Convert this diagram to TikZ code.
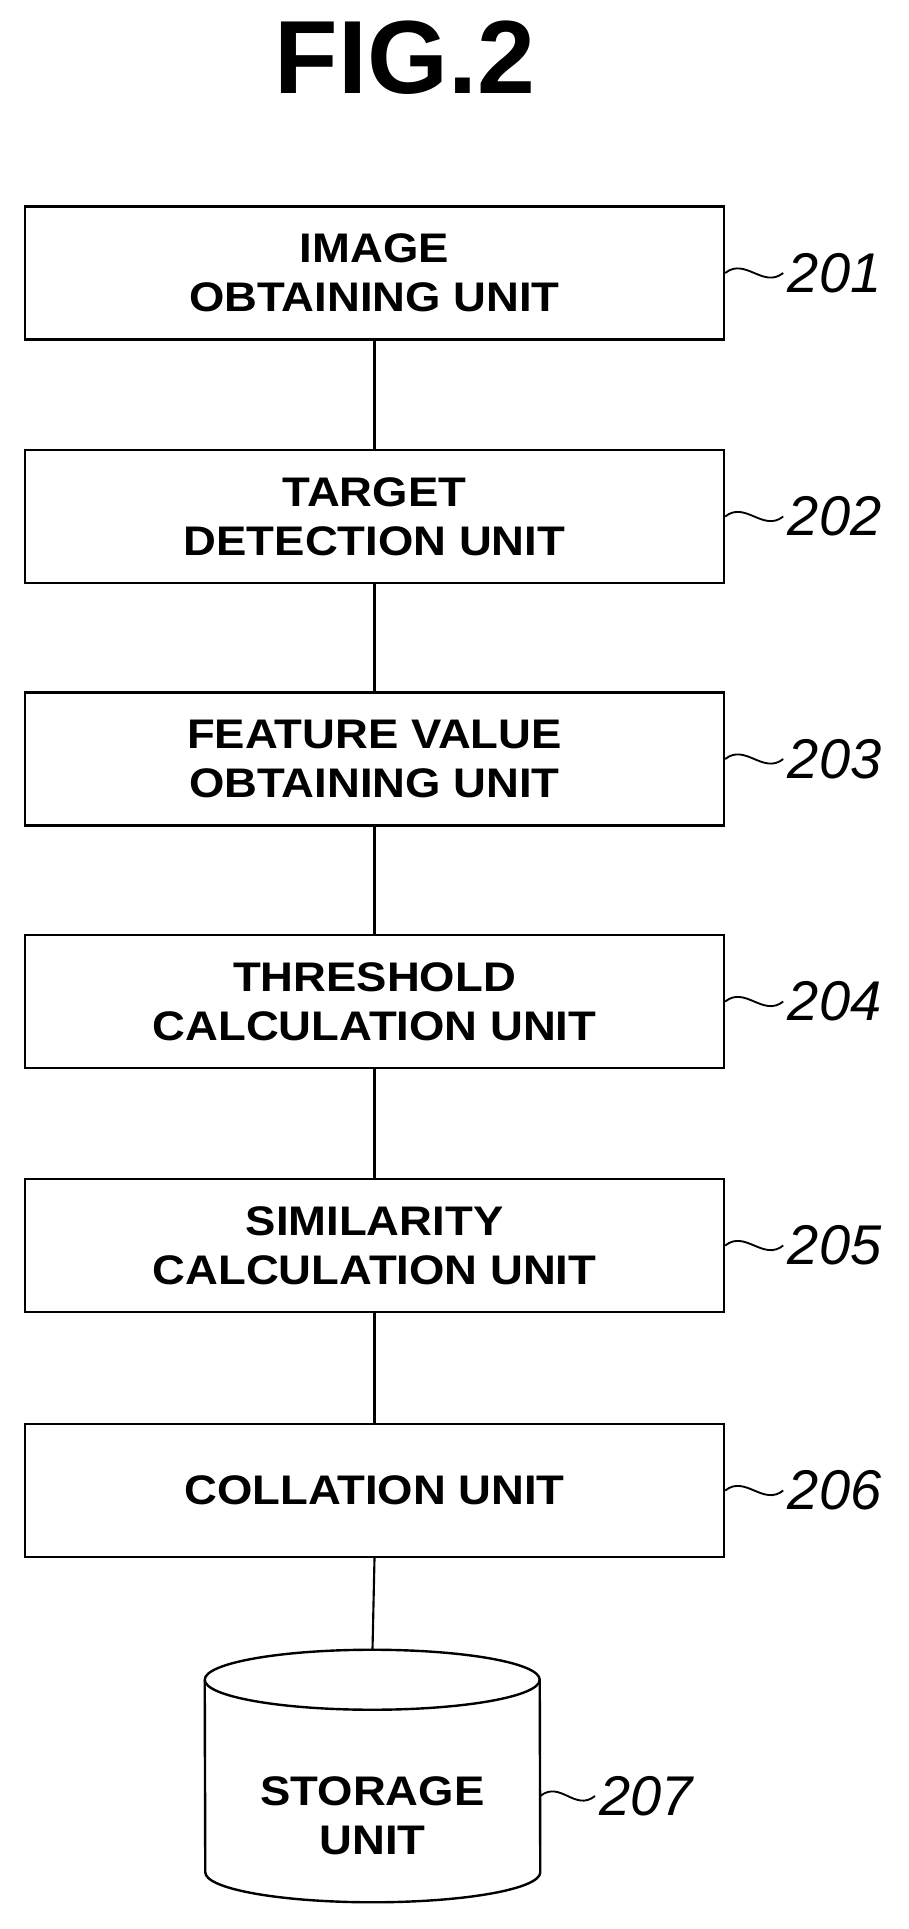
\documentclass[tikz,border=0pt]{standalone}
\usepackage{fontspec}
\setmainfont{Liberation Sans}
\usetikzlibrary{decorations.pathmorphing}
\begin{document}
\begin{tikzpicture}[x=0.75pt,y=-0.75pt,
  txt/.style={align=center,font=\fontsize{31}{37}\selectfont\bfseries,xscale=1.1},
  unitbox/.style={draw,line width=1.8pt,minimum width=699*0.75pt,minimum height=133*0.75pt,inner sep=0pt},
  lbl/.style={anchor=west,font=\fontsize{42}{42}\selectfont\itshape},
  wire/.style={line width=1.6pt},
  tilde/.style={line width=1.4pt}]
\useasboundingbox (0,0) rectangle (908,1929);
\node[font=\fontsize{78}{78}\selectfont\bfseries] (title) at (405,58) {FIG.2};
\foreach \n/\y/\t in {b1/273/{IMAGE\\OBTAINING UNIT},b2/516.5/{TARGET\\DETECTION UNIT},b3/759/{FEATURE VALUE\\OBTAINING UNIT},b4/1001.5/{THRESHOLD\\CALCULATION UNIT},b5/1245.5/{SIMILARITY\\CALCULATION UNIT},b6/1490.5/{COLLATION UNIT}} {
  \node[unitbox] (\n) at (374.5,\y) {};
  \node[txt] (\n t) at (\n.center) {\t};
}
% storage cylinder
\node[minimum width=335*0.75pt,minimum height=252*0.75pt,inner sep=0pt] (st) at (372.5,1776) {};
\draw[line width=1.8pt] (st.north west) ++(0,30) arc[start angle=180,end angle=0,x radius=167.5,y radius=-30]
  -- ([yshift=22.5pt]st.south east) arc[start angle=0,end angle=-180,x radius=167.5,y radius=-30] -- cycle;
\draw[line width=1.8pt] (st.north west) ++(0,30) arc[start angle=180,end angle=360,x radius=167.5,y radius=-30];
\node[txt] (stt) at (372.5,1816) {STORAGE\\UNIT};
\foreach \a/\b in {b1/b2,b2/b3,b3/b4,b4/b5,b5/b6,b6/st} \draw[wire] (\a.south) -- (\b.north);
\foreach \n/\t in {b1/201,b2/202,b3/203,b4/204,b5/205,b6/206} {
  \node[lbl] (l\t) at ([xshift=58*0.75pt]\n.east) {\t};
  \draw[tilde] (\n.east) .. controls +(20,-16) and +(-20,16) .. (l\t.west);
}
\node[lbl] (l207) at (595,1796) {207};
\coordinate (s7) at (st.east |- l207.west);
\draw[tilde] (s7) .. controls +(20,-16) and +(-20,16) .. (l207.west);
\end{tikzpicture}
\end{document}
